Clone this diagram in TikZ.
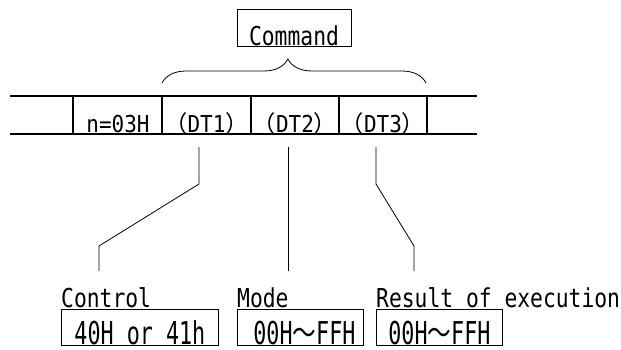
\documentclass[tikz,border=0pt]{standalone}
\usepackage{fontspec}
\setmonofont[FakeStretch=0.82]{DejaVu Sans Mono}
\newfontfamily\cellfont[FakeStretch=0.9]{DejaVu Sans Mono}
\newfontfamily\valfont[FakeStretch=0.69]{DejaVu Sans Mono}
\newfontfamily\cjk{Noto Sans CJK JP}
\newfontfamily\cjkval[FakeStretch=0.75]{Noto Sans CJK JP}
\usetikzlibrary{decorations.pathreplacing}
\tikzset{txt/.style = {font = \ttfamily\fontsize{26}{28}\selectfont, inner sep = 0, anchor = base},
  celltxt/.style = {txt, font = \cellfont\fontsize{23.3}{26}\selectfont},
  valtxt/.style = {txt, font = \valfont\fontsize{31.5}{34}\selectfont},
  lbl/.style = {txt, anchor = base west},
  box/.style = {draw, line width = 0.8pt, inner sep = 0},
  lead/.style = {line width = 0.8pt},
  rule/.style = {line width = 2pt}}

\begin{document}
\begin{tikzpicture}[x=1pt, y=-1pt]
    \useasboundingbox (0, 0) rectangle (621, 349);
    % command and brace
    \node (cmd) at (294, 27.5) [box, minimum width = 114, minimum height = 37] {};
    \node (cmdtxt) at ([yshift=1pt]cmd.south) [txt] {Command};
    \draw [decorate, decoration = {brace, amplitude = 24pt, aspect = 0.477}, line width = 0.8pt] (162, 83) -- (426, 83);
    % frame
    \draw [rule] (10, 96) -- (477, 96);
    \draw [rule] (10, 134) -- (477, 134);
    \foreach \x in {73, 162, 251, 339, 427}
      \draw [rule] (\x, 96) -- (\x, 134);
    \node (n) at (118, 132) [celltxt] {n=03H};
    \node (dt1) at (206.5, 132) [celltxt] {{\cjk （}DT1{\cjk ）}};
    \node (dt2) at (295, 132) [celltxt] {{\cjk （}DT2{\cjk ）}};
    \node (dt3) at (383, 132) [celltxt] {{\cjk （}DT3{\cjk ）}};
    % leaders
    \coordinate (s1) at (199, 147);  \coordinate (e1) at (99, 271);
    \draw [lead] (s1) -- ++(0, 37) -- ++(-100, 62) -- (e1);
    \coordinate (s2) at (288, 147);  \coordinate (e2) at (288, 271);
    \draw [lead] (s2) -- (e2);
    \coordinate (s3) at (376, 147);  \coordinate (e3) at (414, 271);
    \draw [lead] (s3) -- ++(0, 37) -- ++(38, 62) -- (e3);
    % labels and values
    \node (ctl) at (61, 307) [lbl] {Control};
    \node (mode) at (237, 307) [lbl] {Mode};
    \node (res) at (376, 307) [lbl] {Result of execution};
    \node (v1) at (61, 309) [box, anchor = north west, minimum width = 157, minimum height = 36] {};
    \node (v1txt) at ([yshift=1pt]v1.south) [valtxt] {40H or 41h};
    \node (v2) at (237, 309) [box, anchor = north west, minimum width = 126, minimum height = 36] {};
    \node (v2txt) at ([xshift=4pt, yshift=1pt]v2.south) [valtxt] {00H{\cjkval ～}FFH};
    \node (v3) at (376, 309) [box, anchor = north west, minimum width = 126, minimum height = 36] {};
    \node (v3txt) at ([yshift=1pt]v3.south) [valtxt] {00H{\cjkval ～}FFH};
\end{tikzpicture}
\end{document}
